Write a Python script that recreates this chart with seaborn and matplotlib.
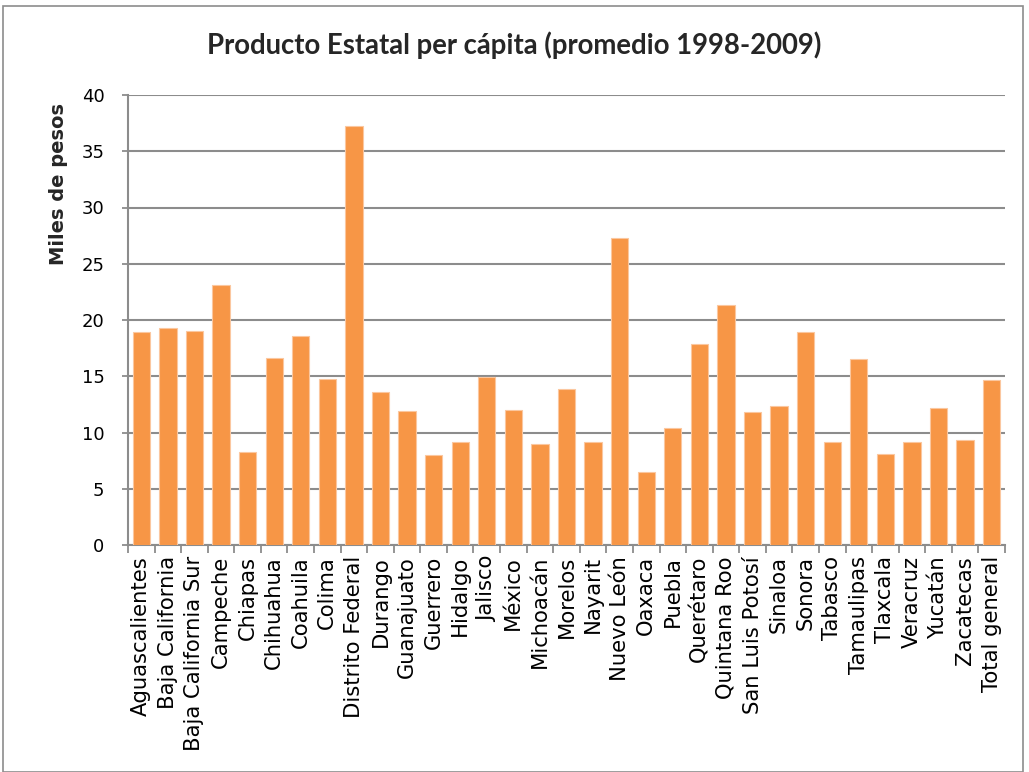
import matplotlib
matplotlib.use("Agg")
import matplotlib.pyplot as plt
import seaborn as sns
import numpy as np
import pandas as pd
from matplotlib.patches import Rectangle

estados = [
    "Aguascalientes", "Baja California", "Baja California Sur", "Campeche",
    "Chiapas", "Chihuahua", "Coahuila", "Colima", "Distrito Federal",
    "Durango", "Guanajuato", "Guerrero", "Hidalgo", "Jalisco", "México",
    "Michoacán", "Morelos", "Nayarit", "Nuevo León", "Oaxaca", "Puebla",
    "Querétaro", "Quintana Roo", "San Luis Potosí", "Sinaloa", "Sonora",
    "Tabasco", "Tamaulipas", "Tlaxcala", "Veracruz", "Yucatán", "Zacatecas",
    "Total general",
]
miles_pesos = [
    18.9, 19.3, 19.0, 23.1, 8.3, 16.6, 18.6, 14.8, 37.2,
    13.6, 11.9, 8.0, 9.15, 14.9, 12.0, 8.95, 13.85, 9.2, 27.25, 6.45, 10.4,
    17.85, 21.35, 11.8, 12.4, 18.95, 9.2, 16.5, 8.1, 9.15, 12.15, 9.3,
    14.65,
]
y_ticks = [0, 5, 10, 15, 20, 25, 30, 35, 40]

df = pd.DataFrame({"estado": estados, "valor": miles_pesos})

sns.set_theme(style="white")
plt.rcParams["font.family"] = ["DejaVu Sans"]

W, H = 1029, 772
fig = plt.figure(figsize=(W / 100, H / 100), dpi=100)
ax = fig.add_axes([128 / W, 1 - 545 / H, (1005 - 128) / W, (545 - 95) / H])

grid_c = "#8c8c8c"
sns.barplot(data=df, x="estado", y="valor", color="#F79646", saturation=1,
            width=0.65, edgecolor="#FBC79F", linewidth=0.8, ax=ax, zorder=3)

ax.set_ylim(0, 40)
ax.set_xlim(-0.5, len(estados) - 0.5)
ax.set_yticks(y_ticks)
ax.set_yticklabels([str(t) for t in y_ticks], fontsize=13, color="black")
ax.yaxis.grid(True, color=grid_c, linewidth=1.5, zorder=0)
ax.set_axisbelow(True)

# category labels under each bar, tick marks at category boundaries
ax.set_xticks(range(len(estados)))
ax.set_xticklabels(estados, rotation=90, fontsize=15.2, color="black")
ax.tick_params(axis="x", which="major", length=0, pad=8)
ax.set_xticks(np.arange(-0.5, len(estados), 1.0), minor=True)
ax.tick_params(axis="x", which="minor", length=6, width=1.3, color=grid_c,
               direction="out", bottom=True)
ax.tick_params(axis="y", length=4, width=1.3, color=grid_c, direction="out",
               left=True, pad=13)

for side in ["top", "right"]:
    ax.spines[side].set_visible(False)
for side in ["left", "bottom"]:
    ax.spines[side].set_color(grid_c)
    ax.spines[side].set_linewidth(1.5)

ax.set_xlabel("")
ax.set_ylabel("Miles de pesos", fontsize=14, fontweight="bold")
ax.yaxis.set_label_coords((59 - 128) / (1005 - 128), (545 - 184) / 450)
ax.yaxis.label.set_va("center")

fig.text(0.5, 1 - 54 / H, "Producto Estatal per cápita (promedio 1998-2009)",
         ha="center", va="baseline", fontsize=19.8, fontweight="bold",
         family=["Lato", "DejaVu Sans"])

# chart border
fig.patches.append(Rectangle((3 / W, 0.0), 1020 / W, 1 - 6 / H,
                             transform=fig.transFigure, fill=False,
                             edgecolor="#8c8c8c", linewidth=1.2))

fig.savefig("out.png", dpi=100)
